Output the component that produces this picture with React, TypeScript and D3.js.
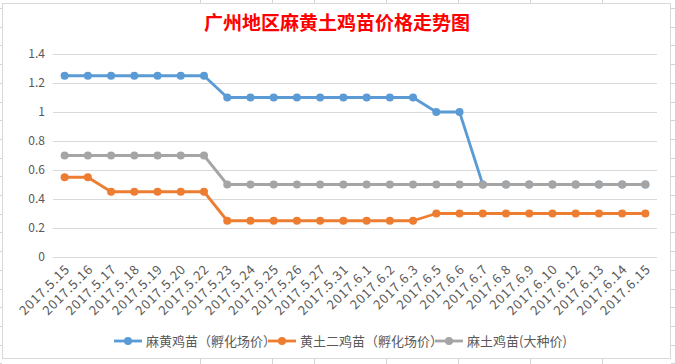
import React, { useEffect, useRef } from 'react';
import * as d3 from 'd3';

const dates = [
  '2017.5.15', '2017.5.16', '2017.5.17', '2017.5.18', '2017.5.19', '2017.5.20', '2017.5.22',
  '2017.5.23', '2017.5.24', '2017.5.25', '2017.5.26', '2017.5.27', '2017.5.31', '2017.6.1',
  '2017.6.2', '2017.6.3', '2017.6.5', '2017.6.6', '2017.6.7', '2017.6.8', '2017.6.9',
  '2017.6.10', '2017.6.12', '2017.6.13', '2017.6.14', '2017.6.15',
];

const mahuang = [
  1.25, 1.25, 1.25, 1.25, 1.25, 1.25, 1.25,
  1.1, 1.1, 1.1, 1.1, 1.1, 1.1, 1.1, 1.1, 1.1,
  1, 1,
  0.5, 0.5, 0.5, 0.5, 0.5, 0.5, 0.5, 0.5,
];

const huangtu = [
  0.55, 0.55, 0.45, 0.45, 0.45, 0.45, 0.45,
  0.25, 0.25, 0.25, 0.25, 0.25, 0.25, 0.25, 0.25, 0.25,
  0.3, 0.3, 0.3, 0.3, 0.3, 0.3, 0.3, 0.3, 0.3, 0.3,
];

const matu = [
  0.7, 0.7, 0.7, 0.7, 0.7, 0.7, 0.7,
  0.5, 0.5, 0.5, 0.5, 0.5, 0.5, 0.5, 0.5, 0.5, 0.5, 0.5, 0.5,
  0.5, 0.5, 0.5, 0.5, 0.5, 0.5, 0.5,
];

const yTicks = [0, 0.2, 0.4, 0.6, 0.8, 1, 1.2, 1.4];

const series = [
  { name: '麻黄鸡苗（孵化场价）', values: mahuang, color: '#5B9BD5' },
  { name: '黄土二鸡苗（孵化场价）', values: huangtu, color: '#ED7D31' },
  { name: '麻土鸡苗(大种价)', values: matu, color: '#A5A5A5' },
];

const title = '广州地区麻黄土鸡苗价格走势图';

const App = () => {
  const svgRef = useRef<SVGSVGElement>(null);

  useEffect(() => {
    const width = 675;
    const height = 364;
    const marginLeft = 53;
    const marginRight = 18;
    const marginTop = 54;
    const plotBottom = 257;
    const font = "'Noto Sans CJK SC', 'Noto Sans', sans-serif";

    const svg = d3.select(svgRef.current);
    svg.selectAll('*').remove();
    svg.attr('width', width).attr('height', height).style('font-family', font);

    // spreadsheet background
    svg.append('rect').attr('width', width).attr('height', height).attr('fill', '#fff');
    const bg = svg.append('g').attr('stroke', '#D4D4D4').attr('stroke-width', 1);
    [200, 272, 314, 386, 458, 530, 602].forEach(x => {
      bg.append('line').attr('x1', x + 0.5).attr('x2', x + 0.5).attr('y1', 0).attr('y2', 3);
      bg.append('line').attr('x1', x + 0.5).attr('x2', x + 0.5).attr('y1', 359).attr('y2', height);
    });
    d3.range(8, height, 18.7).forEach(y => {
      bg.append('line').attr('x1', 0).attr('x2', 2).attr('y1', Math.round(y) + 0.5).attr('y2', Math.round(y) + 0.5);
      bg.append('line').attr('x1', 671).attr('x2', width).attr('y1', Math.round(y) + 0.5).attr('y2', Math.round(y) + 0.5);
    });

    // chart area border
    svg.append('rect')
      .attr('x', 2.5).attr('y', 3.5).attr('width', 668).attr('height', 355)
      .attr('fill', '#fff').attr('stroke', '#D9D9D9');

    svg.append('text')
      .attr('x', 337).attr('y', 30)
      .attr('text-anchor', 'middle')
      .attr('fill', '#FF0000')
      .style('font-size', '19px')
      .style('font-weight', 'bold')
      .text(title);

    const x = d3.scaleBand<string>()
      .domain(dates)
      .range([marginLeft, width - marginRight]);

    const y = d3.scaleLinear()
      .domain([0, 1.4])
      .range([plotBottom, marginTop]);

    const cx = (d: string) => (x(d) ?? 0) + x.bandwidth() / 2;

    // grid
    svg.append('g')
      .selectAll('line')
      .data(yTicks)
      .join('line')
      .attr('x1', marginLeft)
      .attr('x2', width - marginRight)
      .attr('y1', d => Math.round(y(d)) + 0.5)
      .attr('y2', d => Math.round(y(d)) + 0.5)
      .attr('stroke', '#D9D9D9');

    svg.append('g')
      .selectAll('text')
      .data(yTicks)
      .join('text')
      .attr('x', 45)
      .attr('y', d => y(d) + 4)
      .attr('text-anchor', 'end')
      .attr('fill', '#595959')
      .style('font-size', '12px')
      .text(d => String(d));

    // rotated date labels
    svg.append('g')
      .selectAll('text')
      .data(dates)
      .join('text')
      .attr('transform', d => `translate(${cx(d) + 6},${270}) rotate(-45)`)
      .attr('text-anchor', 'end')
      .attr('fill', '#595959')
      .style('font-size', '13px')
      .style('letter-spacing', '0.8px')
      .text(d => d);

    const line = d3.line<number>()
      .x((_, i) => cx(dates[i]))
      .y(d => y(d));

    series.forEach(s => {
      const g = svg.append('g');
      g.append('path')
        .datum(s.values)
        .attr('d', line)
        .attr('fill', 'none')
        .attr('stroke', s.color)
        .attr('stroke-width', 2.8)
        .attr('stroke-linejoin', 'round');
      g.selectAll('circle')
        .data(s.values)
        .join('circle')
        .attr('cx', (_, i) => cx(dates[i]))
        .attr('cy', d => y(d))
        .attr('r', 4)
        .attr('fill', s.color);
    });

    // legend
    const legendX = [114, 268, 435];
    series.forEach((s, i) => {
      const g = svg.append('g').attr('transform', `translate(${legendX[i]},341)`);
      g.append('line').attr('x1', 0).attr('x2', 28).attr('y1', 0).attr('y2', 0)
        .attr('stroke', s.color).attr('stroke-width', 2.8);
      g.append('circle').attr('cx', 14).attr('cy', 0).attr('r', 4).attr('fill', s.color);
      g.append('text')
        .attr('x', 32).attr('y', 5)
        .attr('fill', '#595959')
        .style('font-size', '13px')
        .text(s.name);
    });
  }, []);

  return <svg ref={svgRef} style={{ position: 'absolute', left: 0, top: 0 }}></svg>;
};

export default App;
